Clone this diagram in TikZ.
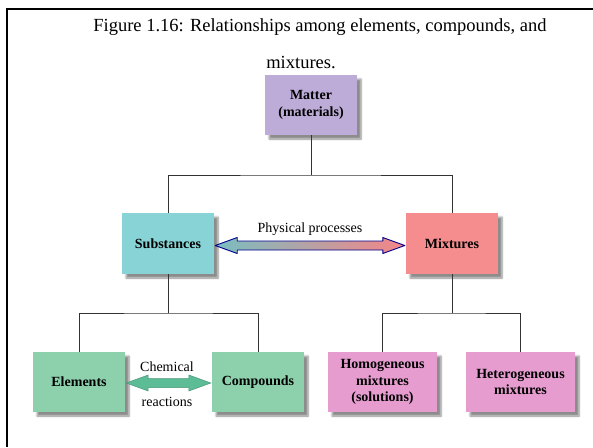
\documentclass[tikz,border=0pt]{standalone}
\usepackage{fontspec}
\setmainfont{Liberation Serif}
\usetikzlibrary{calc,shadows.blur}

\definecolor{matterc}{RGB}{190,172,216}
\definecolor{substc}{RGB}{135,211,214}
\definecolor{mixc}{RGB}{245,140,142}
\definecolor{elemc}{RGB}{140,208,172}
\definecolor{homoc}{RGB}{230,156,207}
\definecolor{arrowc}{RGB}{92,188,150}

\tikzset{
  box/.style={fill=#1, minimum width=92pt, minimum height=61pt, inner sep=2pt,
    align=center, font=\fontsize{14}{16.5}\selectfont\bfseries,
    blur shadow={shadow xshift=4pt, shadow yshift=-4pt, shadow blur steps=6, shadow opacity=45}},
  wide/.style={minimum width=109pt},
  tree/.style={draw=black!80, line width=0.8pt},
  lbl/.style={font=\fontsize{14}{16}\selectfont, inner sep=0pt},
  caption/.style={font=\fontsize{18.5}{22}\selectfont, inner sep=0pt}
}

\begin{document}
\begin{tikzpicture}[x=1pt, y=-1pt]
  \useasboundingbox (0,0) rectangle (593,447);
  \draw[line width=2pt] (7,447)--(7,9)--(593,9); % frame

  \node[caption] (title) at (320,27) {Figure 1.16: Relationships among elements, compounds, and};
  \node[caption] (title2) at (301,63) {mixtures.};

  \node[box=matterc, minimum height=60pt] (matter) at (311,105) {Matter\\(materials)};
  \node[box=substc] (subst) at (168,243.5) {Substances};
  \node[box=mixc] (mix) at (452,243.5) {Mixtures};
  \node[box=elemc, minimum height=60pt] (elem) at (79,382) {Elements};
  \node[box=elemc, minimum height=60pt] (comp) at (258,382) {Compounds};
  \node[box=homoc, wide, minimum height=60pt] (homo) at (382.5,382) {Homogeneous\\mixtures\\(solutions)};
  \node[box=homoc, wide, minimum height=60pt] (hetero) at (520.5,382) {Heterogeneous\\mixtures};

  \coordinate (j1) at (311,175);
  \coordinate (j2) at (168,313);
  \coordinate (j3) at (452,313);
  \draw[tree] (matter) -- (j1);
  \draw[tree] (subst.north) |- (j1) -| (mix.north);
  \draw[tree] (subst) -- (j2);
  \draw[tree] (elem.north) |- (j2) -| (comp.north);
  \draw[tree] (mix) -- (j3);
  \draw[tree] (homo.north) |- (j3) -| (hetero.north);

  % physical processes
  \coordinate (pa) at ($(subst.east)+(1,2)$);
  \coordinate (pb) at ($(mix.west)+(-1,2)$);
  \shade[left color=substc!90!black, middle color=black!35, right color=mixc!95!red,
    draw=blue!55!black, line width=0.9pt, line join=round]
    (pa) -- ($(pa)+(22,-8)$) -- ($(pa)+(22,-4.5)$) -- ($(pb)+(-22,-4.5)$) -- ($(pb)+(-22,-8)$)
    -- (pb) -- ($(pb)+(-22,8)$) -- ($(pb)+(-22,4.5)$) -- ($(pa)+(22,4.5)$) -- ($(pa)+(22,8)$) -- cycle;
  \node[lbl] (phys) at (310,229) {Physical processes};

  % chemical reactions
  \coordinate (ca) at ($(elem.east)+(1,1)$);
  \coordinate (cb) at ($(comp.west)+(-1,1)$);
  \fill[arrowc, draw=arrowc!80!black, line width=0.5pt]
    (ca) -- ($(ca)+(22,-8)$) -- ($(ca)+(22,-4.5)$) -- ($(cb)+(-22,-4.5)$) -- ($(cb)+(-22,-8)$)
    -- (cb) -- ($(cb)+(-22,8)$) -- ($(cb)+(-22,4.5)$) -- ($(ca)+(22,4.5)$) -- ($(ca)+(22,8)$) -- cycle;
  \node[lbl] (chem) at (167,367) {Chemical};
  \node[lbl] (react) at (167,402) {reactions};
\end{tikzpicture}
\end{document}
